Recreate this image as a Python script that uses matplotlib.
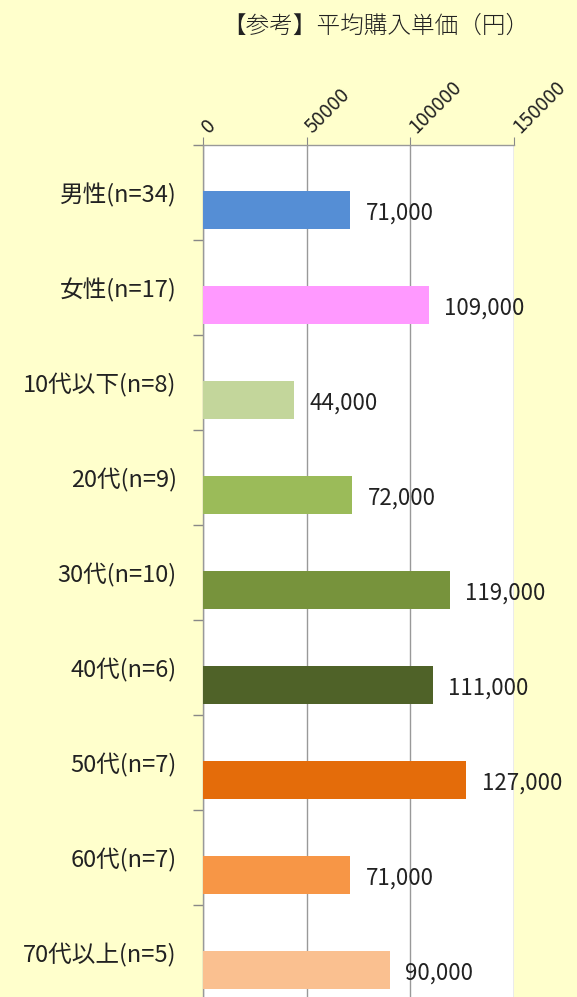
import matplotlib
matplotlib.use("Agg")
import matplotlib.pyplot as plt
from matplotlib.ticker import FixedLocator
from matplotlib.transforms import ScaledTranslation

plt.rcParams['font.family'] = ['Noto Sans CJK JP', 'DejaVu Sans']

categories = ["男性(n=34)", "女性(n=17)", "10代以下(n=8)", "20代(n=9)", "30代(n=10)",
              "40代(n=6)", "50代(n=7)", "60代(n=7)", "70代以上(n=5)"]
values = [71000, 109000, 44000, 72000, 119000, 111000, 127000, 71000, 90000]
value_labels = ["71,000", "109,000", "44,000", "72,000", "119,000",
                "111,000", "127,000", "71,000", "90,000"]
colors = ["#558ED5", "#FF99FF", "#C3D69B", "#9BBB59", "#77933C",
          "#4F6228", "#E46C0A", "#F79646", "#FAC090"]
xticks = [0, 50000, 100000, 150000]
title = "【参考】平均購入単価（円）"

bg = "#FFFFCC"
fig = plt.figure(figsize=(5.77, 9.97), dpi=100, facecolor=bg)
ax = fig.add_axes([203/577, 1 - 1000/997, (514-203)/577, (1000-145)/997])
ax.set_facecolor("white")

n = len(categories)
pos = list(range(n))
offset = 0.184
bar_pos = [p + offset for p in pos]
ax.barh(bar_pos, values, height=0.4, color=colors, edgecolor="none", zorder=3)

for yp, v, lab in zip(bar_pos, values, value_labels):
    ax.annotate(lab, xy=(v, yp), xytext=(11, -2), textcoords="offset points",
                ha="left", va="center", fontsize=16, color="#222222", zorder=4)

ax.set_xlim(0, 150000)
ax.set_ylim(n - 0.5, -0.5)

ax.xaxis.tick_top()
ax.set_xticks(xticks)
ax.set_xticklabels([str(t) for t in xticks], rotation=45, ha="left", va="baseline",
                   rotation_mode="anchor", fontsize=14, color="#222222")
ax.tick_params(axis="x", which="major", length=6, color="#888888", pad=3)
shift = ScaledTranslation(4.5/72, -1/72, fig.dpi_scale_trans)
for lbl in ax.get_xticklabels():
    lbl.set_transform(lbl.get_transform() + shift)
ax.grid(axis="x", color="#999999", linewidth=1.0, zorder=1)

ax.set_yticks(pos)
ax.set_yticklabels(categories, fontsize=17, color="#222222")
ax.tick_params(axis="y", which="major", length=0, pad=19)
ax.yaxis.set_minor_locator(FixedLocator([p - 0.5 for p in pos] + [n - 0.5]))
ax.tick_params(axis="y", which="minor", length=7, color="#888888", width=1)

for s in ["right", "bottom"]:
    ax.spines[s].set_visible(False)
for s in ["left", "top"]:
    ax.spines[s].set_color("#999999")
    ax.spines[s].set_linewidth(1.0)

fig.text(376/577, 1 - 26/997, title, ha="center", va="center", fontsize=17,
         color="#222222", fontweight="light")

fig.savefig("out.png", dpi=100, facecolor=bg)
